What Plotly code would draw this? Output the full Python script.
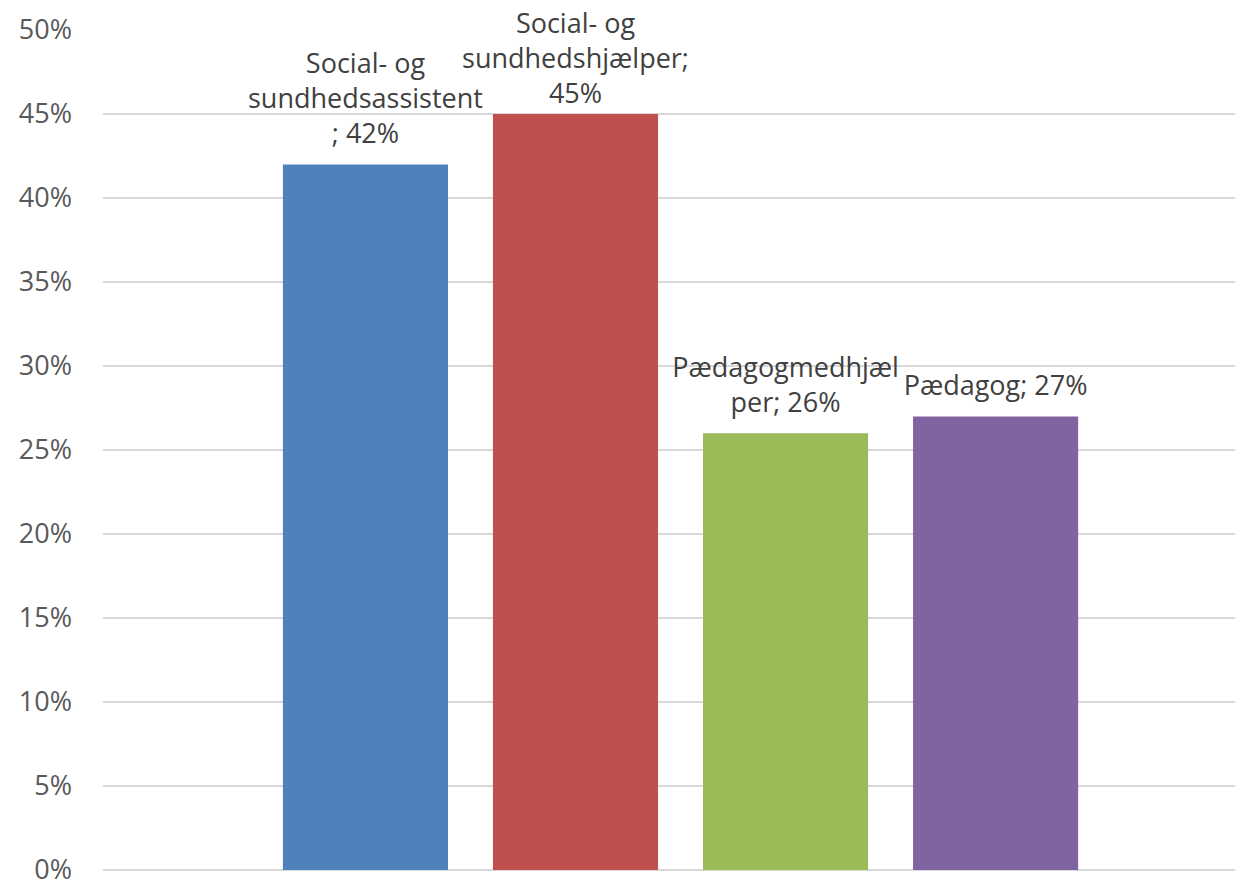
import plotly.graph_objects as go

category = ["Total"]
series_names = ["Social- og sundhedsassistent", "Social- og sundhedshjælper", "Pædagogmedhjælper", "Pædagog"]
values = [0.42, 0.45, 0.26, 0.27]
label_texts = [
    "Social- og<br>sundhedsassistent<br>; 42%",
    "Social- og<br>sundhedshjælper;<br>45%",
    "Pædagogmedhjæl<br>per; 26%",
    "Pædagog; 27%",
]
colors = ["#4F81BD", "#C0504D", "#9BBB59", "#8064A2"]
y_ticks = [0, 0.05, 0.10, 0.15, 0.20, 0.25, 0.30, 0.35, 0.40, 0.45, 0.50]

# a symmetric pair of tall, invisible spaces on the last line adds some gap between label and bar;
# the tallest bar's label is kept tight (it is squeezed against the top of the chart)
pad = '<span style="font-size:60px"> </span>'


def padded(t, v):
    if v == max(values):
        return t
    lines = t.split("<br>")
    lines[-1] = pad + lines[-1] + pad
    return "<br>".join(lines)


fig = go.Figure()
for name, v, lab, c in zip(series_names, values, label_texts, colors):
    fig.add_trace(go.Bar(
        x=category, y=[v], name=name,
        marker=dict(color=c, line=dict(width=0)),
        text=[padded(lab, v)], textposition="outside", textangle=0,
        constraintext="none", cliponaxis=False,
        textfont=dict(family="Open Sans", size=27, color="#404040"),
        hoverinfo="skip",
    ))

# the page body adds an 8px offset, so the figure is 8px smaller and margins compensate
fig.update_layout(
    width=1235, height=874,
    margin=dict(l=95, r=0, t=22, b=12, autoexpand=False),
    paper_bgcolor="white", plot_bgcolor="white",
    barmode="group", bargap=0.263, bargroupgap=0.214,
    showlegend=False,
    font=dict(family="Open Sans", size=27, color="#595959"),
)
fig.update_xaxes(
    type="category", range=[-0.5066, 0.4934], showticklabels=False,
    showgrid=False, zeroline=False, showline=False, ticks="", automargin=False,
)
fig.update_yaxes(
    range=[0, 0.5], tickvals=y_ticks, tickformat=".0%",
    showgrid=True, gridcolor="#D9D9D9", gridwidth=1.5,
    zeroline=True, zerolinecolor="#D9D9D9", zerolinewidth=1.5,
    showline=False, ticks="", ticklabelstandoff=30, automargin=False,
    ticklabeloverflow="allow",
    tickfont=dict(family="Open Sans", size=27, color="#595959"),
)

fig.write_html("out.html")
